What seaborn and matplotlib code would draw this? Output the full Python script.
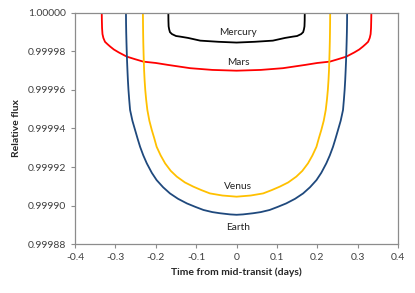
import numpy as np
import matplotlib
matplotlib.use("Agg")
import matplotlib.pyplot as plt
import pandas as pd
import seaborn as sns

# values (time in days, relative flux)
earth_t = [-0.2740, -0.2738, -0.2734, -0.2728, -0.2721, -0.2713, -0.2703, -0.2692, -0.2678,
           -0.2660, -0.2638, -0.2580, -0.2514, -0.2450, -0.2390, -0.2310, -0.2224, -0.2100,
           -0.1980, -0.1820, -0.1650, -0.1450, -0.1230, -0.1020, -0.0820, -0.0600, -0.0410,
           -0.0160, 0.0000,
           0.0160, 0.0410, 0.0600, 0.0820, 0.1020, 0.1230, 0.1450, 0.1650, 0.1820,
           0.1980, 0.2100, 0.2224, 0.2310, 0.2390, 0.2450, 0.2514, 0.2580, 0.2638,
           0.2660, 0.2678, 0.2692, 0.2703, 0.2713, 0.2721, 0.2728, 0.2734, 0.2738, 0.2740]
earth_f = [1.000000, 0.999995, 0.999990, 0.999985, 0.999980, 0.999975, 0.999970, 0.999965, 0.999960,
           0.999955, 0.9999496, 0.999944, 0.9999392, 0.9999346, 0.9999305, 0.999926, 0.9999219, 0.999917,
           0.9999132, 0.9999095, 0.9999063, 0.9999035, 0.9999011, 0.9998993, 0.9998977, 0.9998966, 0.999896,
           0.9998954, 0.9998952,
           0.9998954, 0.999896, 0.9998966, 0.9998977, 0.9998993, 0.9999011, 0.9999035, 0.9999063, 0.9999095,
           0.9999132, 0.999917, 0.9999219, 0.999926, 0.9999305, 0.9999346, 0.9999392, 0.999944, 0.9999496,
           0.999955, 0.999960, 0.999965, 0.999970, 0.999975, 0.999980, 0.999985, 0.999990, 0.999995, 1.000000]

venus_t = [-0.2320, -0.2318, -0.2315, -0.2311, -0.2305, -0.2298, -0.2290, -0.2278, -0.2262,
           -0.2240, -0.2210, -0.2160, -0.2100, -0.2040, -0.1980, -0.1880, -0.1770, -0.1630,
           -0.1480, -0.1280, -0.1070, -0.0870, -0.0660, -0.0350, 0.0000,
           0.0350, 0.0660, 0.0870, 0.1070, 0.1280, 0.1480, 0.1630, 0.1770, 0.1880,
           0.1980, 0.2040, 0.2100, 0.2160, 0.2210, 0.2240, 0.2262, 0.2278, 0.2290,
           0.2298, 0.2305, 0.2311, 0.2315, 0.2318, 0.2320]
venus_f = [1.000000, 0.999995, 0.999990, 0.999985, 0.999980, 0.999975, 0.999970, 0.999965, 0.999960,
           0.999955, 0.9999496, 0.999944, 0.9999392, 0.999935, 0.9999305, 0.999926, 0.9999219, 0.999918,
           0.999915, 0.999912, 0.9999098, 0.999908, 0.9999063, 0.9999052, 0.9999046,
           0.9999052, 0.9999063, 0.999908, 0.9999098, 0.999912, 0.999915, 0.999918, 0.9999219, 0.999926,
           0.9999305, 0.999935, 0.9999392, 0.999944, 0.9999496, 0.999955, 0.999960, 0.999965, 0.999970,
           0.999975, 0.999980, 0.999985, 0.999990, 0.999995, 1.000000]

mars_t = [-0.3340, -0.3337, -0.3332, -0.3322, -0.3300, -0.3260, -0.3200, -0.3130, -0.3040,
          -0.2920, -0.2720, -0.2520, -0.2310, -0.2000, -0.1700, -0.1150, -0.0600, 0.0000,
          0.0600, 0.1150, 0.1700, 0.2000, 0.2310, 0.2520, 0.2720, 0.2920, 0.3040,
          0.3130, 0.3200, 0.3260, 0.3300, 0.3322, 0.3332, 0.3337, 0.3340]
mars_f = [1.000000, 0.999996, 0.999992, 0.999989, 0.999987, 0.999985, 0.9999838, 0.9999825, 0.999981,
          0.9999795, 0.9999773, 0.999976, 0.9999747, 0.999974, 0.999973, 0.9999713, 0.9999704, 0.9999700,
          0.9999704, 0.9999713, 0.999973, 0.999974, 0.9999747, 0.999976, 0.9999773, 0.9999795, 0.999981,
          0.9999825, 0.9999838, 0.999985, 0.999987, 0.999989, 0.999992, 0.999996, 1.000000]

mercury_t = [-0.1690, -0.1688, -0.1683, -0.1670, -0.1650, -0.1600, -0.1500, -0.1400, -0.1200,
             -0.0900, -0.0450, 0.0000,
             0.0450, 0.0900, 0.1200, 0.1400, 0.1500, 0.1600, 0.1650, 0.1670, 0.1683, 0.1688, 0.1690]
mercury_f = [1.000000, 0.999996, 0.999993, 0.9999915, 0.999990, 0.999989, 0.999988, 0.9999877, 0.999987,
             0.9999856, 0.999985, 0.9999846,
             0.999985, 0.9999856, 0.999987, 0.9999877, 0.999988, 0.999989, 0.999990, 0.9999915, 0.999993,
             0.999996, 1.000000]

planet_names = ["Mercury", "Mars", "Venus", "Earth"]
label_flux = [0.9999896, 0.9999745, 0.9999101, 0.9998888]

x_ticks = [-0.4, -0.3, -0.2, -0.1, 0, 0.1, 0.2, 0.3, 0.4]
x_labels = ["-0.4", "-0.3", "-0.2", "-0.1", "0", "0.1", "0.2", "0.3", "0.4"]
y_ticks = [0.99988, 0.99990, 0.99992, 0.99994, 0.99996, 0.99998, 1.00000]

sns.set_style("white")
plt.rcParams["font.family"] = ["Lato", "DejaVu Sans"]

colors = {"Mercury": "#000000", "Mars": "#FF0000", "Venus": "#FFC000", "Earth": "#1F497D"}
series = {"Mercury": (mercury_t, mercury_f), "Mars": (mars_t, mars_f),
          "Venus": (venus_t, venus_f), "Earth": (earth_t, earth_f)}

fig = plt.figure(figsize=(4.15, 2.93), dpi=100)
ax = fig.add_axes([0.181, 0.167, 0.778, 0.789])

for name in ["Mercury", "Mars", "Earth", "Venus"]:
    t, f = series[name]
    df = pd.DataFrame({"t": t, "f": f})
    sns.lineplot(data=df, x="t", y="f", ax=ax, sort=False, estimator=None,
                 color=colors[name], linewidth=1.3)

for name, yv in zip(planet_names, label_flux):
    ax.text(0.004, yv, name, ha="center", va="center", fontsize=7.3, color="#222222")

ax.set_xlim(-0.4, 0.4)
ax.set_ylim(0.99988, 1.0)
ax.set_xticks(x_ticks)
ax.set_xticklabels(x_labels)
ax.set_yticks(y_ticks)
ax.set_yticklabels(["%.5f" % v for v in y_ticks])
ax.tick_params(axis="both", labelsize=7.5, colors="#8c8c8c", labelcolor="#404040",
               direction="out", length=3, width=0.8, bottom=True, left=True)
for s in ax.spines.values():
    s.set_color("#8c8c8c")
    s.set_linewidth(0.9)

ax.set_xlabel("Time from mid-transit (days)", fontsize=7.5, fontweight="bold", labelpad=4)
ax.set_ylabel("Relative flux", fontsize=7.5, fontweight="bold", labelpad=5)

fig.savefig("out.png", dpi=100)
